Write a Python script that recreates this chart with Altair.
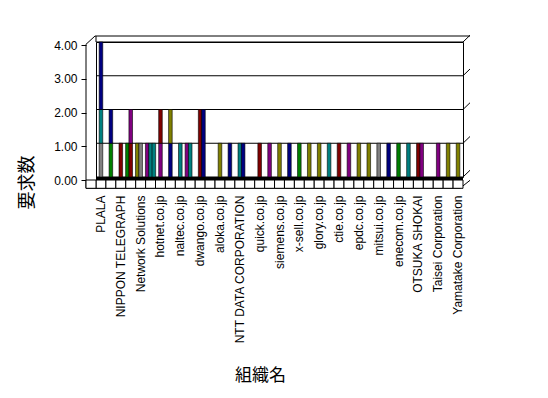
import altair as alt
import pandas as pd

# ---- data ----
shown_labels = ["PLALA", "NIPPON TELEGRAPH", "Network Solutions", "hotnet.co.jp",
                "naltec.co.jp", "dwango.co.jp", "aloka.co.jp", "NTT DATA CORPORATION",
                "quick.co.jp", "siemens.co.jp", "x-sell.co.jp", "glory.co.jp",
                "ctie.co.jp", "epdc.co.jp", "mitsui.co.jp", "enecom.co.jp",
                "OTSUKA SHOKAI", "Taisei Corporation", "Yamatake Corporation"]
n_cats = 37
series_names = ["navy", "green", "maroon", "purple", "olive", "teal", "gray"]
series_colors = ["#000080", "#008000", "#800000", "#800080", "#808000", "#008080", "#808080"]

# stacked segments (bottom to top within each category / slot)
seg_cat = [0, 0, 0, 1, 1, 2, 3, 3, 3, 4, 4, 5, 5, 5, 6, 6, 7, 7, 8, 9, 9, 10, 10,
           12, 13, 14, 14, 16, 17, 18, 19, 20, 21, 22, 23, 24, 25, 26, 27, 28, 29,
           30, 31, 32, 32, 34, 35, 36]
seg_slot = ["M", "M", "M", "M", "M", "M", "L", "M", "M", "L", "M", "L", "M", "R", "M", "M",
            "M", "M", "M", "L", "M", "M", "R",
            "M", "M", "M", "R", "M", "M", "M", "M", "M", "M", "M", "M", "M", "M", "M", "M",
            "M", "M", "M", "M", "M", "R", "M", "M", "M"]
seg_series = ["gray", "teal", "navy", "green", "navy", "maroon", "green", "maroon", "purple",
              "olive", "gray", "purple", "teal", "teal", "purple", "maroon", "navy", "olive",
              "teal", "purple", "teal", "maroon", "navy",
              "olive", "navy", "teal", "navy", "maroon", "purple", "olive", "navy", "green",
              "olive", "olive", "teal", "maroon", "purple", "olive", "olive", "gray", "navy",
              "green", "teal", "maroon", "purple", "purple", "olive", "olive"]
seg_value = [1, 1, 2, 1, 1, 1, 1, 1, 1, 1, 1, 1, 1, 1, 1, 1, 1, 1, 1, 1, 1, 2, 2,
             1, 1, 1, 1, 1, 1, 1, 1, 1, 1, 1, 1, 1, 1, 1, 1, 1, 1, 1, 1, 1, 1, 1, 1, 1]
y_ticks = [0, 1, 2, 3, 4]

# ---- build tables ----
cats = []
k = 0
for i in range(n_cats):
    if i % 2 == 0:
        cats.append(shown_labels[k]); k += 1
    else:
        cats.append("#" + str(i))

bars = pd.DataFrame({
    "org": [cats[c] for c in seg_cat],
    "slot": seg_slot,
    "series": seg_series,
    "value": seg_value,
    "ord": list(range(len(seg_cat))),
})
cat_df = pd.DataFrame({"org": cats})
grid_df = pd.DataFrame({"v": y_ticks})

W, H = 367, 135
FONT = "Liberation Sans"
JFONT = "Noto Sans CJK JP"

xscale = alt.Scale(domain=cats, paddingInner=0, paddingOuter=0)
yscale = alt.Scale(domain=[0, 4], nice=False)

x_axis = alt.Axis(title="組織名", labelAngle=-90, ticks=False, domain=False, labelPadding=18,
                  labelFont=FONT, labelFontSize=12, labelColor="black", labelOverlap=False,
                  labelExpr="indexof(datum.label, '#') == 0 ? '' : datum.label",
                  titleFont=JFONT, titleFontSize=17, titleFontWeight="normal", titleColor="black",
                  titleX=164, titleY=198, titleAlign="center", titleBaseline="middle")
y_axis = alt.Axis(title="要求数", values=y_ticks, tickCount=5, format=".2f", grid=False,
                  offset=10, tickSize=5, tickColor="black", domain=False, tickOffset=3,
                  labelPadding=4, labelFont=FONT, labelFontSize=12, labelColor="black",
                  labelOverlap=False, labelBound=False,
                  titleFont=JFONT, titleFontSize=18, titleFontWeight="normal", titleColor="black",
                  titleAngle=-90, titleX=-59, titleY=140, titleAlign="center",
                  titleBaseline="middle")

grid = alt.Chart(grid_df).mark_rule(color="black", strokeWidth=1).encode(
    y=alt.Y("v:Q", scale=yscale, axis=y_axis), x=alt.value(0), x2=alt.value(W))

side_ticks = alt.Chart(grid_df).transform_calculate(v2="datum.v + 0.2").mark_rule(
    color="black", strokeWidth=1).encode(
    y=alt.Y("v:Q", scale=yscale, axis=y_axis), y2="v2:Q", x=alt.value(W), x2=alt.value(W + 7))

def seg(x1, y1, x2, y2):
    return alt.Chart(grid_df.head(1)).mark_rule(color="black", strokeWidth=1).encode(
        x=alt.value(x1), y=alt.value(y1), x2=alt.value(x2), y2=alt.value(y2))

frame = [
    seg(-1, -6, W + 7, -6),
    seg(0, -6, 0, 0),
    seg(-10, 2.3, -1, -6),
    seg(-10, 2.3, -10, 146.3),
    seg(-10, 146.3, W - 3, 146.3),
    seg(W - 3, 146.3, W + 7, 138.3),
]

floor_band = alt.Chart(grid_df.head(1)).mark_rect(color="black").encode(
    x=alt.value(0), x2=alt.value(W), y=alt.value(H), y2=alt.value(H + 3))

cells = alt.Chart(cat_df).mark_rect(fill="white", stroke="black", strokeWidth=1).encode(
    x=alt.X("org:N", scale=xscale, sort=cats, axis=x_axis),
    y=alt.value(H + 3), y2=alt.value(146.3))

left_cell = alt.Chart(grid_df.head(1)).mark_rect(fill="white", stroke="black", strokeWidth=1).encode(
    x=alt.value(-10), x2=alt.value(0), y=alt.value(H + 3), y2=alt.value(146.3))

bar_layer = alt.Chart(bars).mark_bar(width=3.6, stroke="black", strokeWidth=0.6).encode(
    x=alt.X("org:N", scale=xscale, sort=cats, axis=x_axis),
    xOffset=alt.XOffset("slot:N", scale=alt.Scale(domain=["L", "M", "R"])),
    y=alt.Y("value:Q", stack="zero", scale=yscale, axis=y_axis),
    color=alt.Color("series:N", scale=alt.Scale(domain=series_names, range=series_colors),
                    legend=None),
    order=alt.Order("ord:Q"),
)

chart = alt.layer(grid, side_ticks, *frame, floor_band, cells, left_cell, bar_layer).properties(
    width=W, height=H,
    autosize=alt.AutoSizeParams(type="none"),
    padding={"left": 88, "top": 34, "right": 77, "bottom": 213},
    background="white",
).configure_view(stroke="black", strokeWidth=1)

chart.save("out.html", embed_options={"renderer": "svg", "actions": False})
